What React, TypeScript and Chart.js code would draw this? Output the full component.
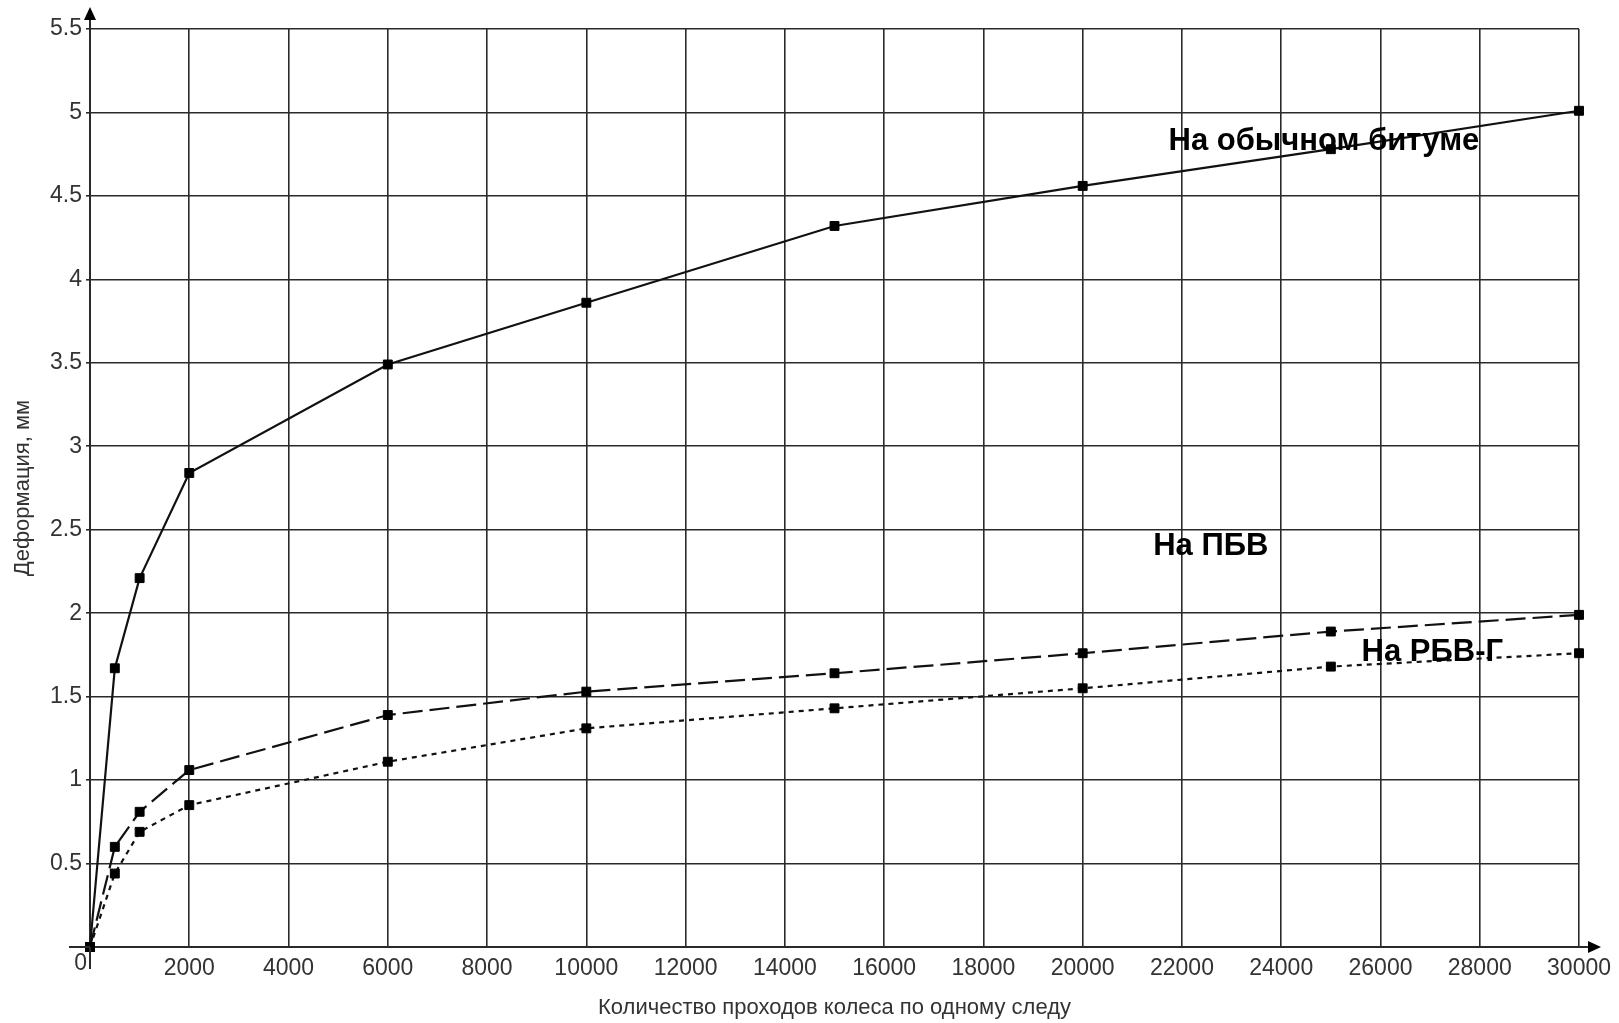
import React, { useEffect, useRef } from 'react';
import { Chart, registerables } from 'chart.js';

Chart.register(...registerables);

const passes = [0, 500, 1000, 2000, 6000, 10000, 15000, 20000, 25000, 30000];
const ordinaryBitumen = [0, 1.67, 2.21, 2.84, 3.49, 3.86, 4.32, 4.56, 4.78, 5.01];
const pbv = [0, 0.6, 0.81, 1.06, 1.39, 1.53, 1.64, 1.76, 1.89, 1.99];
const rbvg = [0, 0.44, 0.69, 0.85, 1.11, 1.31, 1.43, 1.55, 1.68, 1.76];

const seriesNames = ['На обычном битуме', 'На ПБВ', 'На РБВ-Г'];
const labelX = [21730, 21420, 25620];
const labelY = [4.778, 2.35, 1.714];

const xTitle = 'Количество проходов колеса по одному следу';
const yTitle = 'Деформация, мм';

const X_MIN = 0;
const X_MAX = 30000;
const X_STEP = 2000;
const Y_MIN = 0;
const Y_MAX = 5.5;
const Y_STEP = 0.5;

const W = 1619;
const H = 1023;
const TICK_FONT = '"Liberation Sans", Arial, sans-serif';
const LABEL_FONT = '"Liberation Sans", Arial, sans-serif';
const GRID = '#2a2a2a';
const INK = '#111';

const decorPlugin = {
  id: 'decor',
  afterDraw(chart: any) {
    const ctx = chart.ctx;
    const xs = chart.scales.x;
    const ys = chart.scales.y;
    const ca = chart.chartArea;
    const x0 = xs.getPixelForValue(0);
    const y0 = ys.getPixelForValue(0);
    ctx.save();
    // axis extensions
    ctx.strokeStyle = GRID;
    ctx.lineWidth = 2;
    ctx.beginPath();
    ctx.moveTo(x0, ca.top);
    ctx.lineTo(x0, 18);
    ctx.moveTo(x0, y0);
    ctx.lineTo(x0, y0 + 22);
    ctx.moveTo(x0, y0);
    ctx.lineTo(x0 - 21, y0);
    ctx.moveTo(ca.right, y0);
    ctx.lineTo(ca.right + 12, y0);
    ctx.stroke();
    // arrows
    ctx.fillStyle = '#000';
    ctx.beginPath();
    ctx.moveTo(x0, 7);
    ctx.lineTo(x0 - 6, 20);
    ctx.lineTo(x0 + 6, 20);
    ctx.closePath();
    ctx.fill();
    ctx.beginPath();
    ctx.moveTo(ca.right + 22, y0);
    ctx.lineTo(ca.right + 9, y0 - 6);
    ctx.lineTo(ca.right + 9, y0 + 6);
    ctx.closePath();
    ctx.fill();
    // origin zero
    ctx.fillStyle = '#333';
    ctx.font = `23px ${TICK_FONT}`;
    ctx.textAlign = 'right';
    ctx.textBaseline = 'top';
    ctx.fillText('0', x0 - 3, y0 + 5);
    // axis titles
    ctx.font = `22px ${LABEL_FONT}`;
    ctx.textAlign = 'center';
    ctx.textBaseline = 'middle';
    ctx.fillText(xTitle, (ca.left + ca.right) / 2, 1008);
    ctx.save();
    ctx.translate(23, (ca.top + ca.bottom) / 2);
    ctx.rotate(-Math.PI / 2);
    ctx.fillText(yTitle, 0, 0);
    ctx.restore();
    // series labels
    ctx.fillStyle = '#000';
    ctx.font = `bold 31px ${LABEL_FONT}`;
    ctx.textAlign = 'left';
    ctx.textBaseline = 'alphabetic';
    for (let i = 0; i < seriesNames.length; i++) {
      ctx.fillText(seriesNames[i], xs.getPixelForValue(labelX[i]), ys.getPixelForValue(labelY[i]));
    }
    ctx.restore();
  },
};

function makeData(values: number[]) {
  return passes.map((p, i) => ({ x: p, y: values[i] }));
}

export default function App() {
  const ref = useRef<HTMLCanvasElement | null>(null);
  useEffect(() => {
    if (!ref.current) return;
    const common = {
      borderColor: INK,
      backgroundColor: INK,
      borderWidth: 2.2,
      pointStyle: 'rect',
      pointRadius: 6.3,
      pointBorderWidth: 1,
      pointBackgroundColor: '#000',
      pointBorderColor: '#000',
      tension: 0,
      clip: false as any,
      fill: false,
    };
    const chart = new Chart(ref.current, {
      type: 'line',
      data: {
        datasets: [
          { ...common, label: seriesNames[0], data: makeData(ordinaryBitumen) },
          { ...common, label: seriesNames[1], data: makeData(pbv), borderDash: [20, 7] },
          { ...common, label: seriesNames[2], data: makeData(rbvg), borderDash: [5, 5] },
        ],
      },
      options: {
        animation: false,
        responsive: false,
        devicePixelRatio: 1,
        layout: { padding: { top: 29, right: 34, left: 0, bottom: 0 } },
        plugins: { legend: { display: false }, tooltip: { enabled: false } },
        scales: {
          x: {
            type: 'linear',
            min: X_MIN,
            max: X_MAX,
            afterFit: (s: any) => { s.height = 76; },
            afterBuildTicks: (s: any) => {
              const t = [];
              for (let v = X_MIN; v <= X_MAX; v += X_STEP) t.push({ value: v });
              s.ticks = t;
            },
            grid: { color: GRID, lineWidth: 1.6, drawTicks: false },
            border: { color: GRID, width: 2 },
            ticks: {
              color: '#333',
              font: { family: TICK_FONT, size: 23 },
              padding: 8,
              maxRotation: 0,
              autoSkip: false,
              callback: (v: any) => (v === 0 ? '' : String(v)),
            },
          },
          y: {
            type: 'linear',
            min: Y_MIN,
            max: Y_MAX,
            afterFit: (s: any) => { s.width = 90; },
            afterBuildTicks: (s: any) => {
              const t = [];
              for (let i = 0; i <= Math.round((Y_MAX - Y_MIN) / Y_STEP); i++) t.push({ value: Y_MIN + i * Y_STEP });
              s.ticks = t;
            },
            grid: { color: GRID, lineWidth: 1.6, tickLength: 4 },
            border: { color: GRID, width: 2 },
            ticks: {
              color: '#333',
              font: { family: TICK_FONT, size: 23 },
              padding: 4,
              autoSkip: false,
              callback: (v: any) => (v === 0 ? '' : String(v)),
            },
          },
        },
      },
      plugins: [decorPlugin],
    } as any);
    return () => chart.destroy();
  }, []);
  return (
    <div style={{ position: 'fixed', left: 0, top: 0, width: W, height: H, background: '#fff' }}>
      <canvas ref={ref} width={W} height={H} style={{ display: 'block', width: W, height: H }} />
    </div>
  );
}
